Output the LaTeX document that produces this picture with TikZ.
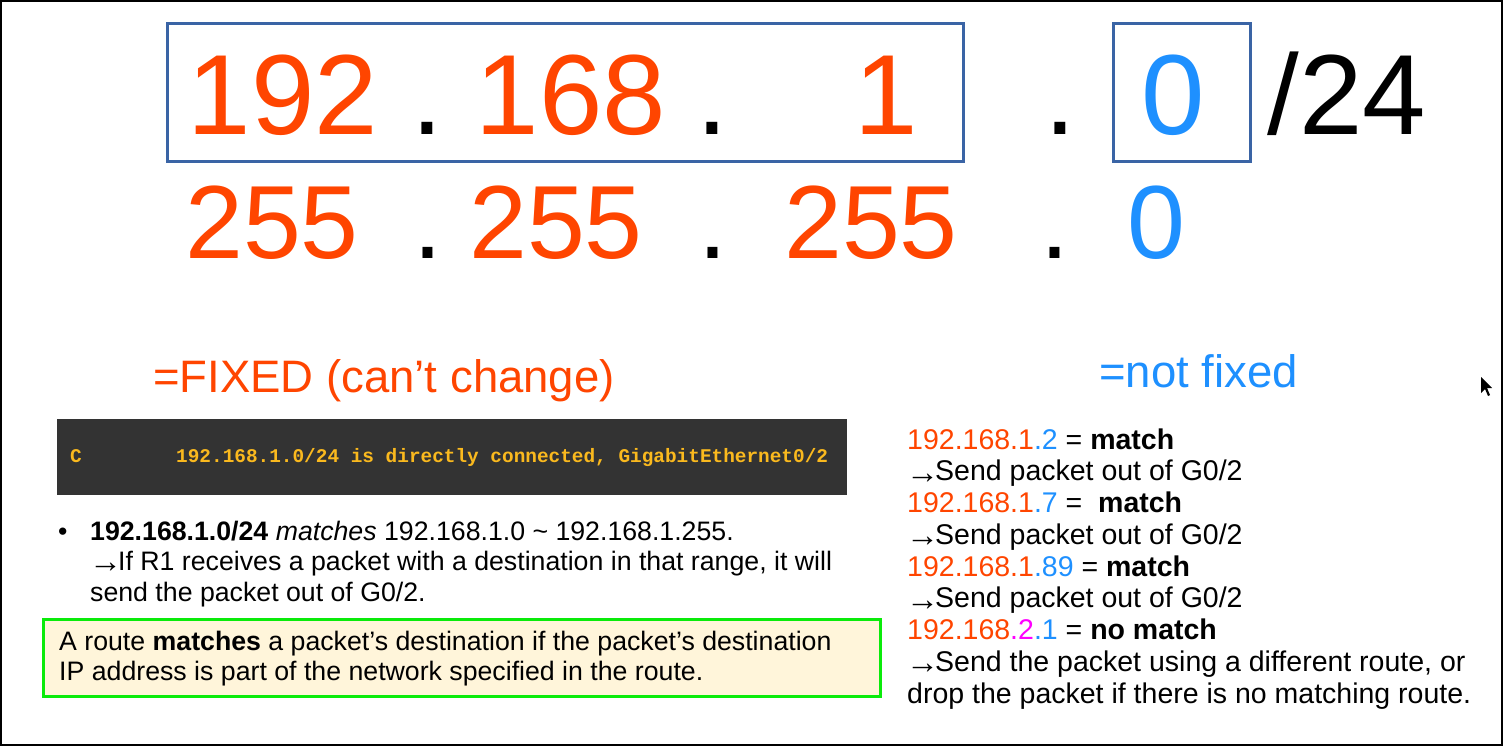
\documentclass[tikz,border=0pt]{standalone}
\usepackage{fontspec}
\setmainfont{Liberation Sans}
\setmonofont{Liberation Mono}
\newfontfamily\arrowfont{Liberation Sans}
\definecolor{fixedred}{RGB}{255,69,0}
\definecolor{freeblue}{RGB}{30,144,255}
\definecolor{boxblue}{RGB}{58,100,165}
\definecolor{bardark}{RGB}{51,51,51}
\definecolor{codeyellow}{RGB}{250,185,30}
\definecolor{notegreen}{RGB}{10,235,10}
\definecolor{notecream}{RGB}{255,245,218}
\definecolor{hostmag}{RGB}{255,0,255}
\newcommand{\rarr}{{\fontsize{33}{33}\selectfont\arrowfont\kern-1pt\raisebox{-2.3pt}{→}\kern-4pt}}
\begin{document}
\begin{tikzpicture}[x=1pt,y=-1pt,
  bigtxt/.style={font=\fontsize{114}{114}\selectfont, inner sep=0, anchor=base},
  midtxt/.style={font=\fontsize{104}{104}\selectfont, inner sep=0, anchor=base},
  lbltxt/.style={font=\fontsize{45.5}{45.5}\selectfont, inner sep=0, anchor=base west},
  codetxt/.style={font=\fontsize{19.4}{19.4}\selectfont\ttfamily\bfseries, text=codeyellow, inner sep=0, anchor=base west},
  bodytxt/.style={font=\fontsize{28.5}{31.7}\selectfont, inner sep=0, anchor=base west},
  lefttxt/.style={font=\fontsize{26.7}{30}\selectfont, inner sep=0, anchor=base west},
  netframe/.style={draw=boxblue, line width=3, anchor=north west, inner sep=0}]
\useasboundingbox (0,0) rectangle (1503,746);
\draw[line width=2] (1,1) rectangle (1502,745);

% boxes
\node[netframe, minimum width=796, minimum height=138] (netbox) at (166,22) {};
\node[netframe, minimum width=137, minimum height=138] (hostbox) at (1112,22) {};

% row 1
\node[bigtxt, text=fixedred] (a1) at (283,135) {192};
\node[bigtxt] (d1) at (427,135) {.};
\node[bigtxt, text=fixedred] (a2) at (571,135) {168};
\node[bigtxt] (d2) at (712,135) {.};
\node[bigtxt, text=fixedred] (a3) at (886.5,135) {1};
\node[bigtxt] (d3) at (1060,135) {.};
\node[bigtxt, text=freeblue] (a4) at (1173,135) {0};
\node[bigtxt] (pfx) at (1347,135) {/24};

% row 2
\node[midtxt, text=fixedred] (m1) at (272,258) {255};
\node[midtxt] (e1) at (428,258) {.};
\node[midtxt, text=fixedred] (m2) at (556,258) {255};
\node[midtxt] (e2) at (713,258) {.};
\node[midtxt, text=fixedred] (m3) at (871,258) {255};
\node[midtxt] (e3) at (1055,258) {.};
\node[midtxt, text=freeblue] (m4) at (1156,258) {0};

% labels
\node[lbltxt, text=fixedred] (fixedlbl) at (153,392) {=FIXED (can’t change)};
\node[lbltxt, text=freeblue] (freelbl) at (1099,387) {=not fixed};

% route bar
\node[fill=bardark, minimum width=790, minimum height=76, anchor=north west, inner sep=0] (bar) at (57,419) {};
\node[codetxt] (codeC) at (70,462) {C};
\node[codetxt] (coderoute) at (176,462) {192.168.1.0/24 is directly connected, GigabitEthernet0/2};

% bullet
\node[lefttxt] (bul) at (58,540) {•};
\node[lefttxt] (b1) at (90,540) {\textbf{192.168.1.0/24} \textit{matches} 192.168.1.0 \textasciitilde\ 192.168.1.255.};
\node[lefttxt] (b2) at (90,570.5) {\rarr If R1 receives a packet with a destination in that range, it will};
\node[lefttxt] (b3) at (90,601) {send the packet out of G0/2.};

% note box
\node[draw=notegreen, fill=notecream, line width=3, minimum width=837, minimum height=77, anchor=north west, inner sep=0] (note) at (42,618) {};
\node[lefttxt] (n1) at (59,650.5) {A route \textbf{matches} a packet’s destination if the packet’s destination};
\node[lefttxt] (n2) at (59,680.5) {IP address is part of the network specified in the route.};

% right column
\node[bodytxt] (r1) at (907,449) {\textcolor{fixedred}{192.168.1}\textcolor{freeblue}{.2} = \textbf{match}};
\node[bodytxt] (r2) at (907,480.75) {\rarr Send packet out of G0/2};
\node[bodytxt] (r3) at (907,512.5) {\textcolor{fixedred}{192.168.1}\textcolor{freeblue}{.7} =\ \ \textbf{match}};
\node[bodytxt] (r4) at (907,544.25) {\rarr Send packet out of G0/2};
\node[bodytxt] (r5) at (907,576) {\textcolor{fixedred}{192.168.1}\textcolor{freeblue}{.89} = \textbf{match}};
\node[bodytxt] (r6) at (907,607.75) {\rarr Send packet out of G0/2};
\node[bodytxt] (r7) at (907,639.5) {\textcolor{fixedred}{192.168}\textcolor{hostmag}{.2}\textcolor{freeblue}{.1} = \textbf{no match}};
\node[bodytxt] (r8) at (907,671.25) {\rarr Send the packet using a different route, or};
\node[bodytxt] (r9) at (907,703) {drop the packet if there is no matching route.};

% mouse pointer
\fill (1481,377) -- (1481,393) -- (1485,389) -- (1488,396) -- (1490,395) -- (1487,388) -- (1492,388) -- cycle;
\end{tikzpicture}
\end{document}
